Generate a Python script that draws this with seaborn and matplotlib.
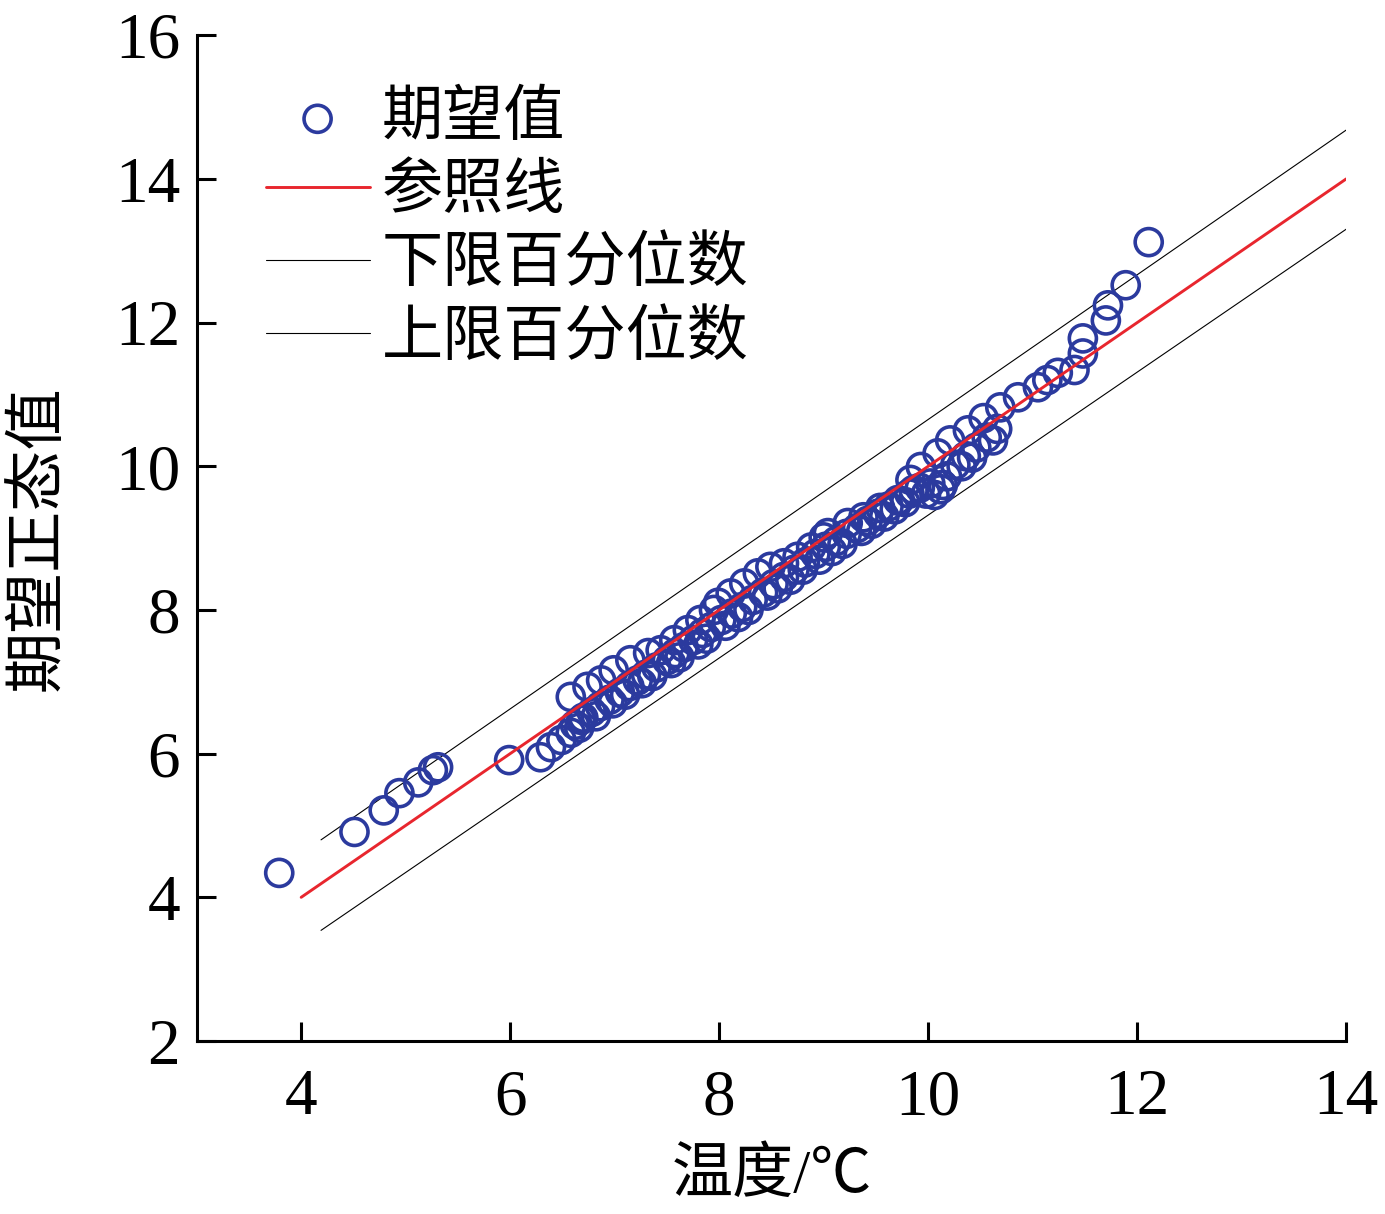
import matplotlib
matplotlib.use("Agg")
from matplotlib import pyplot as plt
import seaborn as sns
import pandas as pd

# observed temperature (x) vs expected normal value (y)
obs_x = [3.79, 4.51, 4.79, 4.94, 5.12, 5.26, 5.31, 5.99, 6.29, 6.39, 6.49, 6.58,
         6.68, 6.58, 6.74, 6.87, 6.99, 7.15, 7.32, 7.44, 7.57, 7.70, 7.82, 7.95,
         7.99, 8.11, 8.24, 8.37, 8.49, 8.62, 8.75, 8.88, 9.00, 9.04, 9.23, 9.38,
         9.54, 9.71, 9.86, 9.83, 9.93, 10.09, 10.21, 10.38, 10.53, 10.69, 10.86,
         11.05, 11.14, 11.24, 11.40, 11.48, 11.48, 11.70, 11.72, 11.89, 12.11,
         6.62, 6.70, 6.78, 6.86, 6.95, 7.05, 7.14, 7.22, 7.30, 7.40, 7.50, 7.58,
         7.66, 7.75, 7.84, 7.92, 8.02, 8.12, 8.22, 8.32, 8.42, 8.52, 8.62, 8.72,
         8.82, 8.92, 9.02, 9.12, 9.22, 9.32, 9.42, 9.52, 9.62, 9.72, 9.82, 9.92,
         10.02, 10.12, 10.18, 10.26, 10.36, 10.46, 10.56, 10.66,
         6.66, 6.82, 6.98, 7.10, 7.26, 7.36, 7.54, 7.62, 7.80, 7.88, 8.06, 8.18,
         8.28, 8.46, 8.56, 8.68, 8.80, 8.96, 9.08, 9.18, 9.36, 9.46, 9.58, 9.68,
         9.78, 9.98, 10.06, 10.14, 10.32, 10.42, 10.62]
exp_y = [4.34, 4.91, 5.21, 5.45, 5.60, 5.77, 5.81, 5.91, 5.95, 6.09, 6.19, 6.29,
         6.47, 6.79, 6.93, 7.02, 7.16, 7.30, 7.40, 7.44, 7.58, 7.72, 7.86, 8.00,
         8.10, 8.23, 8.37, 8.51, 8.60, 8.65, 8.74, 8.87, 9.01, 9.07, 9.21, 9.29,
         9.42, 9.53, 9.67, 9.81, 9.99, 10.18, 10.36, 10.50, 10.67, 10.82, 10.96,
         11.10, 11.20, 11.30, 11.34, 11.57, 11.78, 12.03, 12.24, 12.52, 13.12,
         6.40, 6.50, 6.58, 6.66, 6.75, 6.85, 6.94, 7.02, 7.10, 7.20, 7.30, 7.40,
         7.48, 7.58, 7.68, 7.76, 7.86, 7.95, 8.04, 8.14, 8.24, 8.36, 8.46, 8.56,
         8.66, 8.78, 8.88, 8.96, 9.06, 9.14, 9.24, 9.34, 9.44, 9.52, 9.62, 9.70,
         9.76, 9.68, 9.86, 10.02, 10.14, 10.26, 10.40, 10.52,
         6.36, 6.52, 6.70, 6.82, 6.98, 7.08, 7.26, 7.34, 7.52, 7.60, 7.78, 7.90,
         8.00, 8.20, 8.30, 8.42, 8.56, 8.70, 8.82, 8.92, 9.10, 9.20, 9.30, 9.40,
         9.50, 9.62, 9.60, 9.74, 10.00, 10.12, 10.36]

# reference line and percentile bounds (end points)
ref_x = [4.0, 14.0]
ref_y = [4.0, 14.0]
low_x = [4.19, 14.0]
low_y = [3.54, 13.30]
up_x = [4.19, 14.0]
up_y = [4.80, 14.68]

sns.set_style("ticks")
plt.rcParams['font.family'] = ['Liberation Serif', 'Noto Sans CJK SC']
plt.rcParams['axes.unicode_minus'] = False
for k in ['text.color', 'axes.labelcolor', 'xtick.color', 'ytick.color', 'axes.edgecolor']:
    plt.rcParams[k] = 'black'

fig = plt.figure(figsize=(13.85, 12.14), dpi=100)
ax = fig.add_axes([0.142, 0.1425, 0.830, 0.8285])

df = pd.DataFrame({'x': obs_x, 'y': exp_y})
sns.scatterplot(data=df, x='x', y='y', ax=ax, marker='o', s=380,
                facecolors='none', edgecolor='#2b3a9e', linewidth=2.6,
                label='期望值', zorder=3)
sns.lineplot(x=ref_x, y=ref_y, ax=ax, color='#e8262e', linewidth=2.1,
             label='参照线', zorder=4)
sns.lineplot(x=low_x, y=low_y, ax=ax, color='black', linewidth=0.8,
             label='下限百分位数', zorder=2)
sns.lineplot(x=up_x, y=up_y, ax=ax, color='black', linewidth=0.8,
             label='上限百分位数', zorder=2)

ax.set_xlim(3, 14)
ax.set_ylim(2, 16)
ax.set_xticks([4, 6, 8, 10, 12, 14])
ax.set_yticks([2, 4, 6, 8, 10, 12, 14, 16])
ax.tick_params(direction='in', length=14, width=2.2, labelsize=47, pad=12)
ax.tick_params(axis='x', pad=20)
for s in ['top', 'right']:
    ax.spines[s].set_visible(False)
for s in ['left', 'bottom']:
    ax.spines[s].set_linewidth(2.2)

ax.set_xlabel('温度/℃', fontsize=44, labelpad=14)
ax.set_ylabel('期望正态值', fontsize=44, labelpad=34)

ax.legend(loc='upper left', bbox_to_anchor=(0.06, 0.944), frameon=False,
          fontsize=44, handlelength=1.7, handletextpad=0.2,
          labelspacing=0.27, borderpad=0, borderaxespad=0)

plt.savefig('out.png', dpi=100)
